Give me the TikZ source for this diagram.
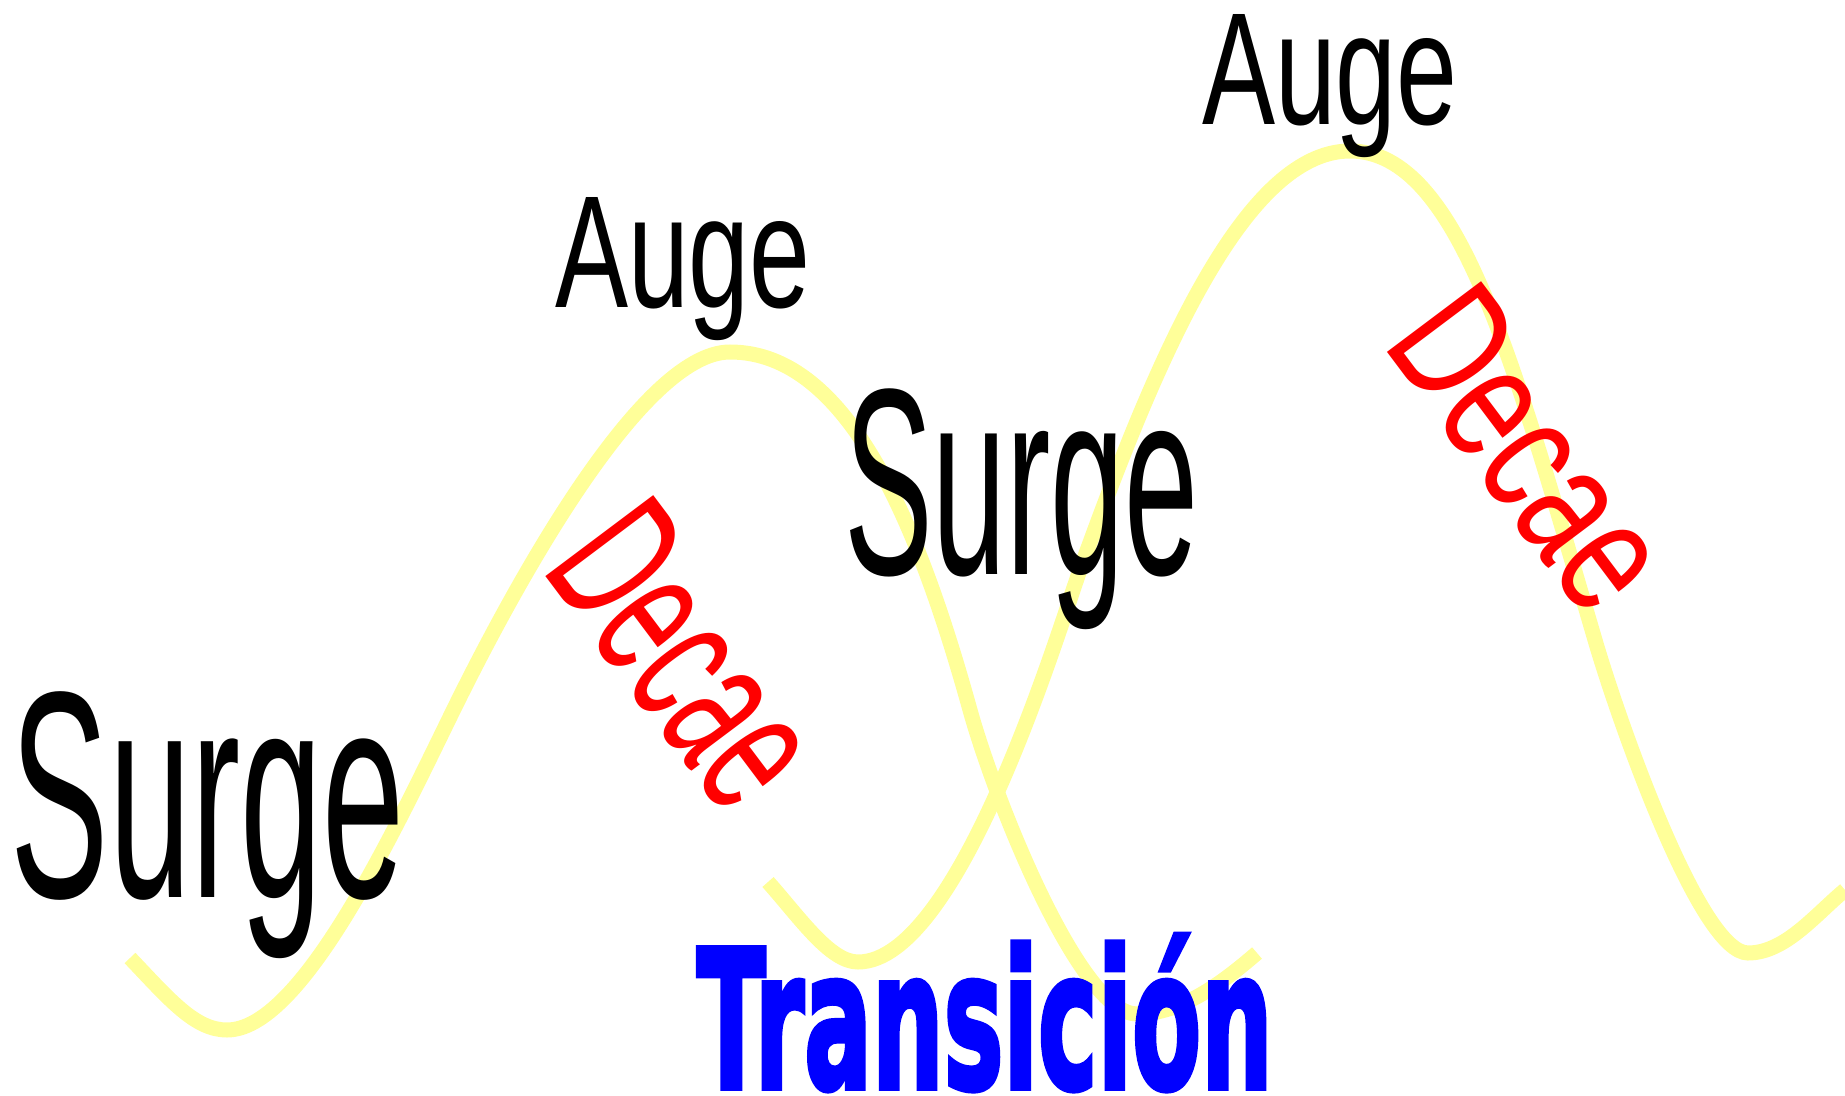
\documentclass[tikz,border=0pt]{standalone}
\usepackage{fontspec}
\newfontfamily\wordfont{Liberation Sans}
\newfontfamily\transfont[FakeBold=3]{DejaVu Sans Bold}
\definecolor{wavecolor}{RGB}{255,255,153}
\tikzset{
  wave/.style={draw=wavecolor, line width=1.5mm, line cap=butt},
  word/.style={inner sep=0pt, outer sep=0pt, anchor=base west},
}
\begin{document}
\begin{tikzpicture}[x=0.1mm, y=-0.1mm]
	\useasboundingbox (0,0) rectangle (1845,1096);

	% Draw the first wave
	\draw[wave] (130,958) .. controls (170,1000) and (195,1030) .. (227,1030)
		.. controls (300,1030) and (390,840) .. (450,717)
		.. controls (510,594) and (640,352) .. (730,352)
		.. controls (850,352) and (920,530) .. (970,710)
		.. controls (995,800) and (1080,1014) .. (1137,1014)
		.. controls (1180,1014) and (1220,985) .. (1257,953);

	% Draw the second wave
	\draw[wave] (768,882) .. controls (800,918) and (830,962) .. (858,962)
		.. controls (960,962) and (1060,625) .. (1080,570)
		.. controls (1150,377) and (1240,151) .. (1350,151)
		.. controls (1460,151) and (1515,368) .. (1595,640)
		.. controls (1619,722) and (1700,953) .. (1748,953)
		.. controls (1785,953) and (1815,915) .. (1845,890);

	% Draw the phase labels
	\node[word, xscale=0.5, font=\wordfont\fontsize{83.9}{84}\selectfont] (surgeL) at (11,897) {Surge};
	\node[word, xscale=0.5, font=\wordfont\fontsize{75.7}{76}\selectfont] (surgeR) at (844,574) {Surge};
	\node[word, xscale=0.685, font=\wordfont\fontsize{45.5}{46}\selectfont] (augeL) at (555,308) {Auge};
	\node[word, xscale=0.685, font=\wordfont\fontsize{45.5}{46}\selectfont] (augeR) at (1202,125) {Auge};
	\node[word, red, rotate=-53.1, xscale=0.55, font=\wordfont\fontsize{55.8}{56}\selectfont] (decaeL) at (540,570) {Decae};
	\node[word, red, rotate=-53.1, xscale=0.70, font=\wordfont\fontsize{48.7}{49}\selectfont] (decaeR) at (1381,345) {Decae};

	% Draw the transition label
	\node[word, blue, text depth=0pt, xscale=0.524, font=\transfont\fontsize{54.6}{55}\selectfont] (trans) at (697,1088) {Transición};

\end{tikzpicture}
\end{document}
